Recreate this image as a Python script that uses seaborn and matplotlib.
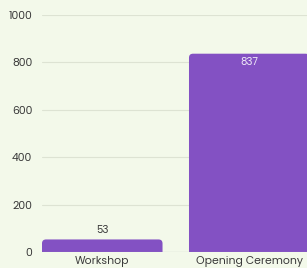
import matplotlib
matplotlib.use("Agg")
import matplotlib.pyplot as plt
import seaborn as sns
import pandas as pd
from matplotlib.patches import FancyBboxPatch

categories = ["Workshop", "Opening Ceremony"]
attendees = [53, 837]
yticks = [0, 200, 400, 600, 800, 1000]

sns.set_theme(style="white")
plt.rcParams['font.family'] = ['Poppins', 'Lato', 'DejaVu Sans']

bg = "#f3f9ea"
bar_color = "#8351c3"
fs = 7.8

fig = plt.figure(figsize=(3.07, 2.68), dpi=100, facecolor=bg)
ax = fig.add_axes([0.1368, 0.0597, 0.8714, 0.884])
ax.set_facecolor(bg)

df = pd.DataFrame({"event": categories, "count": attendees})
sns.barplot(data=df, x="event", y="count", color=bar_color, saturation=1, width=0.82, ax=ax)

ax.set_xlim(-0.41, 1.41)
ax.set_ylim(0, 1000)
ax.set_yticks(yticks)
ax.yaxis.grid(True, color="#dde3d3", linewidth=0.8)
ax.set_axisbelow(True)
for s in ax.spines.values():
    s.set_visible(False)
ax.axhline(0, color="#b8bcb2", linewidth=0.8, zorder=3)
ax.set_xlabel("")
ax.set_ylabel("")
ax.tick_params(axis="both", length=0, labelsize=fs, colors="#3a3a3a")
ax.tick_params(axis="y", pad=7)
ax.tick_params(axis="x", pad=3)

# round the top corners
fig.canvas.draw()
r_px = 4
px_per_x = ax.transData.transform((1, 0))[0] - ax.transData.transform((0, 0))[0]
px_per_y = ax.transData.transform((0, 1))[1] - ax.transData.transform((0, 0))[1]
rx = r_px / px_per_x
ry = r_px / px_per_y
for p in list(ax.patches):
    x, y, w, h = p.get_x(), p.get_y(), p.get_width(), p.get_height()
    p.remove()
    fb = FancyBboxPatch((x, y - ry * 2), w, h + ry * 2,
                        boxstyle=f"round,pad=0,rounding_size={rx}",
                        mutation_aspect=ry / rx, facecolor=bar_color,
                        edgecolor="none", zorder=2, clip_on=True)
    ax.add_patch(fb)

for i, v in enumerate(attendees):
    if v > 200:
        ax.text(i, v - 12, str(v), ha="center", va="top", color="#f0eaf8", fontsize=fs - 0.5)
    else:
        ax.text(i, v + 15, str(v), ha="center", va="bottom", color="#3a3a3a", fontsize=fs - 0.5)

fig.savefig("out.png", dpi=100, facecolor=bg)
